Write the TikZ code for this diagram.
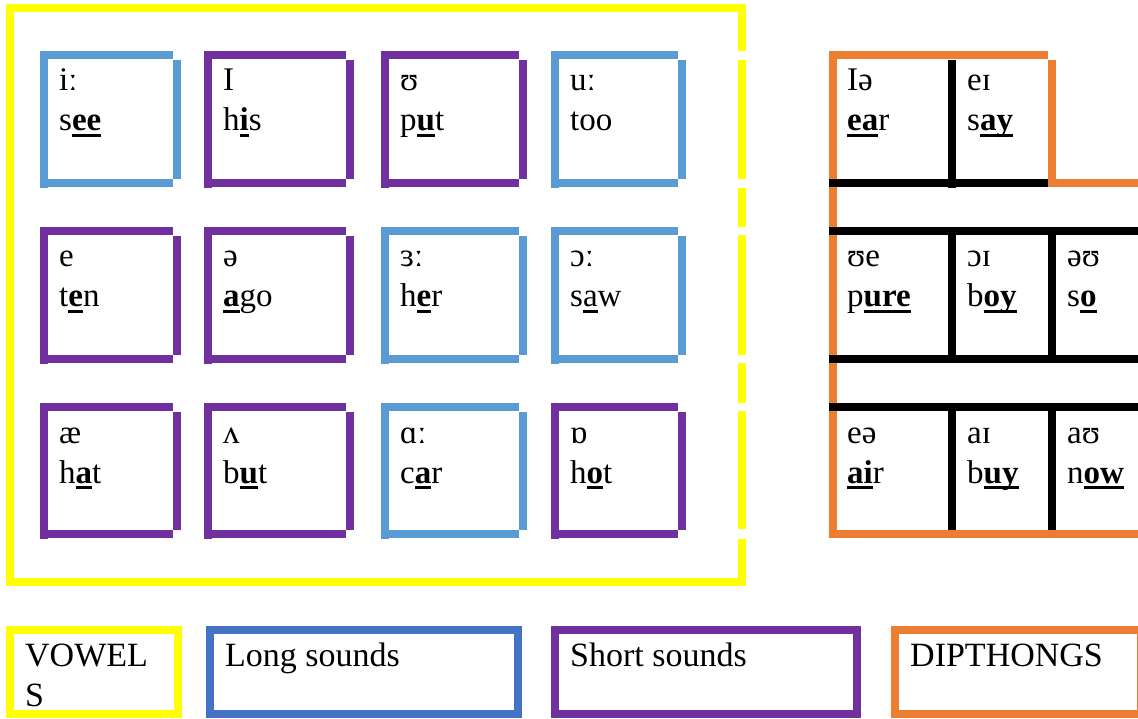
\documentclass[tikz,border=0pt]{standalone}
\usepackage{fontspec}
\setmainfont{Liberation Serif}
\definecolor{vyellow}{HTML}{FFFF00}
\definecolor{vblue}{HTML}{5B9BD5}
\definecolor{vpurple}{HTML}{7030A0}
\definecolor{vorange}{HTML}{ED7D31}
\definecolor{lblue}{HTML}{4472C4}
% bold underlined letters, plain underlined letters
\newcommand{\ulb}[1]{\setbox0=\hbox{\bfseries #1}\rlap{\rule[-6pt]{\wd0}{3pt}}\box0}
\newcommand{\ulr}[1]{\setbox0=\hbox{#1}\rlap{\rule[-6pt]{\wd0}{2.5pt}}\box0}

\tikzset{sym/.style = {anchor=base west,
                       inner sep=0pt,
                       font=\fontsize{33}{40}\selectfont},
         leg/.style = {anchor=base west,
                       inner sep=0pt,
                       align=left,
                       font=\fontsize{34}{40}\selectfont},
         thick8/.style = {line width=8pt}}

\begin{document}
\begin{tikzpicture}[x=1pt,y=-1pt]
  \useasboundingbox (0,0) rectangle (1138,719);
  % outer frame of the vowels
  \draw[vyellow,thick8] (742,51) -- (742,8) -- (10,8) -- (10,582) -- (742,582) -- (742,539);
  \foreach \a/\b in {60/179,188/227,235/355,363/403,411/529}
    \draw[vyellow,thick8] (742,\a) -- (742,\b);
  % vowel boxes: left/right/top/bottom/colour/name/symbol/word
  \foreach \l/\r/\t/\b/\c/\n/\s/\w in {
      40/181/51/187/vblue/see/iː/{s\ulb{ee}},
      204/354/51/187/vpurple/his/I/{h\ulb{i}s},
      381/527/51/187/vpurple/put/ʊ/{p\ulb{u}t},
      551/686/51/187/vblue/too/uː/too,
      40/181/227/363/vpurple/ten/e/{t\ulb{e}n},
      204/354/227/363/vpurple/ago/ə/{\ulb{a}go},
      381/527/227/363/vblue/her/ɜː/{h\ulb{e}r},
      551/686/227/363/vblue/saw/ɔː/{s\ulr{a}w},
      40/181/403/538/vpurple/hat/æ/{h\ulb{a}t},
      204/354/403/538/vpurple/but/ʌ/{b\ulb{u}t},
      381/527/403/538/vblue/car/ɑː/{c\ulb{a}r},
      551/686/403/538/vpurple/hot/ɒ/{h\ulb{o}t}} {
    \draw[\c,thick8] (\l+4,\t) -- (\l+4,\b+1);
    \draw[\c,thick8] (\l,\t+4) -- (\r-8,\t+4);
    \draw[\c,thick8] (\r-4,\t+9) -- (\r-4,\b-8);
    \draw[\c,thick8] (\l+8,\b-4) -- (\r-8,\b-4);
    \node[sym] (s-\n) at (\l+19,\t+40) {\s};
    \node[sym] (w-\n) at (\l+19,\t+80) {\w};
  }
  % diphthongs
  \draw[vorange,thick8] (833,51) -- (833,538);
  \draw[vorange,thick8] (829,55) -- (1048,55);
  \draw[vorange,thick8] (1052,60) -- (1052,187);
  \draw[vorange,thick8] (1048,183) -- (1140,183);
  \draw[black,thick8] (829,183) -- (1048,183);
  \draw[black,thick8] (952,60) -- (952,188);
  \foreach \y in {231,359,407}
    \draw[black,thick8] (829,\y) -- (1140,\y);
  \foreach \x in {952,1052} {
    \draw[black,thick8] (\x,235) -- (\x,355);
    \draw[black,thick8] (\x,411) -- (\x,538);
  }
  \draw[vorange,thick8] (829,534) -- (1140,534);
  \foreach \x/\t/\n/\s/\w in {
      847/51/ear/Iə/{\ulb{ea}r},
      967/51/say/eɪ/{s\ulb{ay}},
      847/227/pure/ʊe/{p\ulb{ure}},
      967/227/boy/ɔɪ/{b\ulb{oy}},
      1067/227/so/əʊ/{s\ulb{o}},
      847/403/air/eə/{\ulb{ai}r},
      967/403/buy/aɪ/{b\ulb{uy}},
      1067/403/now/aʊ/{n\ulb{ow}}} {
    \node[sym] (s-\n) at (\x,\t+40) {\s};
    \node[sym] (w-\n) at (\x,\t+80) {\w};
  }
  % key
  \draw[vyellow,thick8] (10,630) rectangle (178,714);
  \draw[lblue,thick8] (210,630) rectangle (518,714);
  \draw[vpurple,thick8] (555,630) rectangle (857,714);
  \draw[vorange,thick8] (895,630) rectangle (1141,714);
  \node[leg] (k-vowels) at (25,706) {VOWEL\\S};
  \node[leg] (k-long) at (225,666) {Long sounds};
  \node[leg] (k-short) at (570,666) {Short sounds};
  \node[leg] (k-diph) at (910,666) {DIPTHONGS};
\end{tikzpicture}
\end{document}
